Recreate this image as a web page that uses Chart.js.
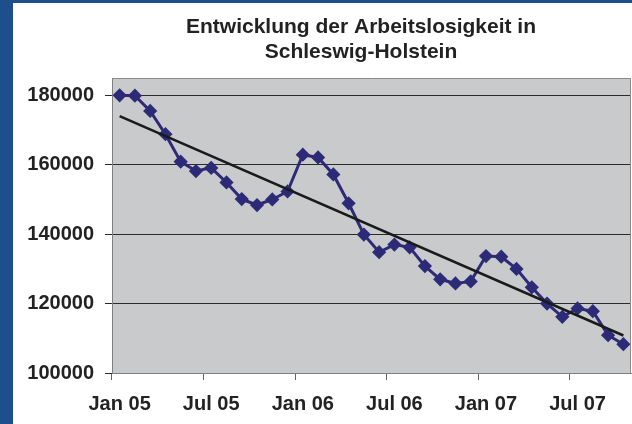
<!DOCTYPE html>
<html><head><meta charset="utf-8">
<script src="https://cdn.jsdelivr.net/npm/chart.js@4.4.0/dist/chart.umd.min.js"></script>
<style>html,body{margin:0;padding:0;background:#fff;}#wrap{width:632px;height:424px;position:relative;}</style>
</head><body><div id="wrap"><canvas id="c" width="632" height="424"></canvas></div>
<script>
const titleLines = ["Entwicklung der Arbeitslosigkeit in", "Schleswig-Holstein"];
const categories = ["Jan 05","Feb 05","Mrz 05","Apr 05","Mai 05","Jun 05","Jul 05","Aug 05","Sep 05","Okt 05","Nov 05","Dez 05",
  "Jan 06","Feb 06","Mrz 06","Apr 06","Mai 06","Jun 06","Jul 06","Aug 06","Sep 06","Okt 06","Nov 06","Dez 06",
  "Jan 07","Feb 07","Mrz 07","Apr 07","Mai 07","Jun 07","Jul 07","Aug 07","Sep 07","Okt 07"];
const unemployed = [180000,179900,175500,168800,160900,158200,159100,154900,150100,148400,150000,152300,
  162900,162100,157200,148900,139900,134800,137000,136200,130800,127000,125800,126400,
  133700,133500,130000,124700,120000,116200,118600,117800,110900,108300];
const trendEnds = [174000, 110800];
const yTicks = [100000,120000,140000,160000,180000];

const trend = categories.map((_, i) => i === 0 ? trendEnds[0] : (i === categories.length - 1 ? trendEnds[1] : null));

const frame = {
  id: 'frame',
  beforeDraw(chart) {
    const ctx = chart.ctx, a = chart.chartArea;
    ctx.save();
    ctx.fillStyle = '#1f4e8c';
    ctx.fillRect(0, 0, 632, 3);
    ctx.fillRect(0, 0, 13, 424);
    ctx.fillStyle = '#c9cacc';
    ctx.fillRect(a.left, a.top, a.right - a.left, a.bottom - a.top);
    ctx.restore();
  },
  afterDraw(chart) {
    const ctx = chart.ctx, a = chart.chartArea;
    ctx.save();
    ctx.strokeStyle = '#8a8a8a';
    ctx.lineWidth = 1;
    ctx.beginPath();
    ctx.moveTo(a.left, a.top + 0.5); ctx.lineTo(a.right - 0.5, a.top + 0.5); ctx.lineTo(a.right - 0.5, a.bottom);
    ctx.stroke();
    ctx.fillStyle = '#222';
    ctx.font = 'bold 21px "Liberation Sans", Arial, sans-serif';
    ctx.textAlign = 'center';
    ctx.textBaseline = 'alphabetic';
    ctx.fillText(titleLines[0], 361, 33);
    ctx.fillText(titleLines[1], 361, 58);
    ctx.restore();
  }
};

new Chart(document.getElementById('c'), {
  type: 'line',
  data: {
    labels: categories,
    datasets: [
      { label: 'Arbeitslose', data: unemployed, borderColor: '#2d2a77', backgroundColor: '#2d2a77',
        borderWidth: 3, pointStyle: 'rectRot', pointRadius: 5, pointHoverRadius: 5, tension: 0, order: 2 },
      { label: 'Trend', data: trend, borderColor: '#1a1a1a', borderWidth: 2.5, pointRadius: 0,
        spanGaps: true, tension: 0, order: 1 }
    ]
  },
  options: {
    responsive: false, animation: false, devicePixelRatio: 1,
    layout: { autoPadding: false, padding: { top: 78, right: 1, left: 0, bottom: 0 } },
    plugins: { legend: { display: false }, title: { display: false }, tooltip: { enabled: false } },
    scales: {
      x: {
        offset: true,
        afterFit(s) { s.height = 51; s.paddingLeft = 0; s.paddingRight = 0; },
        grid: { offset: true, drawOnChartArea: false, drawTicks: true, tickLength: 7,
          color: ctx => (ctx.index % 6 === 0) ? '#666' : 'rgba(0,0,0,0)' },
        border: { color: '#808080', width: 1 },
        ticks: { autoSkip: false, maxRotation: 0, minRotation: 0, padding: 12, color: '#222',
          font: { family: '"Liberation Sans", Arial, sans-serif', size: 20, weight: 'bold' },
          callback: (v, i) => (i % 6 === 0) ? categories[i] : '' }
      },
      y: {
        min: 100000, max: 185000,
        afterFit(s) { s.width = 112; s.paddingTop = 0; s.paddingBottom = 0; },
        afterBuildTicks(s) { s.ticks = yTicks.map(v => ({ value: v })); },
        grid: { color: '#2a2a2a', lineWidth: 1, tickLength: 7 },
        border: { color: '#808080', width: 1 },
        ticks: { padding: 11, color: '#222',
          font: { family: '"Liberation Sans", Arial, sans-serif', size: 20, weight: 'bold' },
          callback: v => String(v) }
      }
    }
  },
  plugins: [frame]
});
</script></body></html>
